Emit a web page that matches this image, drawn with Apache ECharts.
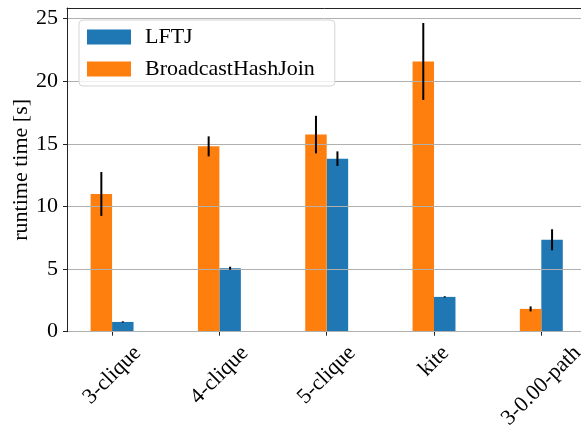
<!DOCTYPE html>
<html>
<head>
<meta charset="utf-8">
<script src="https://cdn.jsdelivr.net/npm/echarts@6/dist/echarts.min.js"></script>
<style>html,body{margin:0;padding:0;background:#fff}#c{width:581px;height:428px}</style>
</head>
<body>
<div id="c"></div>
<script>
const categories = ['3-clique', '4-clique', '5-clique', 'kite', '3-0.00-path'];
const lftj = [0.78, 5.07, 13.82, 2.78, 7.34];
const lftjErr = [0.05, 0.12, 0.58, 0.05, 0.84];
const bhj = [11.0, 14.8, 15.74, 21.58, 1.82];
const bhjErr = [1.75, 0.8, 1.5, 3.07, 0.2];
const yTicks = [0, 5, 10, 15, 20, 25];

const FONT = 'Liberation Serif';
const FS = 22;
const BLUE = '#1f77b4', ORANGE = '#ff7f0e';
const BW = 0.2;
const X_MIN = -0.42, X_MAX = 4.42;

// measure label widths so that rotated labels are centred under their ticks (matplotlib ha='center')
const mctx = document.createElement('canvas').getContext('2d');
mctx.font = FS + 'px "' + FONT + '"';
const rich = {};
categories.forEach((c, i) => {
  const w = mctx.measureText(c).width;
  rich['l' + i] = { fontFamily: FONT, fontSize: FS, color: '#000', padding: [w / 2, w / 2, 0, 0] };
});

function barSeries(name, vals, color, offset) {
  return {
    name, type: 'custom', z: 2,
    itemStyle: { color },
    data: vals.map((v, i) => [i, v]),
    encode: { x: 0, y: 1 },
    renderItem(params, api) {
      const i = api.value(0), v = api.value(1);
      const x0 = i + offset;
      const p1 = api.coord([x0, v]);
      const p2 = api.coord([x0 + BW, 0]);
      return { type: 'rect', shape: { x: p1[0], y: p1[1], width: p2[0] - p1[0], height: p2[1] - p1[1] },
               style: { fill: color } };
    }
  };
}
function errSeries(vals, errs, offset) {
  return {
    type: 'custom', z: 10, silent: true,
    data: vals.map((v, i) => [i, v - errs[i], v + errs[i]]),
    encode: { x: 0, y: [1, 2] },
    renderItem(params, api) {
      const i = api.value(0);
      const x = i + offset + BW / 2;
      const a = api.coord([x, api.value(1)]);
      const b = api.coord([x, api.value(2)]);
      return { type: 'line', shape: { x1: a[0], y1: a[1], x2: b[0], y2: b[1] },
               style: { stroke: '#000', lineWidth: 2 } };
    }
  };
}

const chart = echarts.init(document.getElementById('c'), null, { renderer: 'canvas' });
chart.setOption({
  animation: false,
  backgroundColor: '#fff',
  textStyle: { fontFamily: FONT },
  grid: { left: 67, top: 8, right: -5.4, bottom: 96.3, show: false, containLabel: false, outerBoundsMode: 'none' },
  legend: {
    left: 79, top: 20, orient: 'vertical',
    data: [{ name: 'LFTJ', itemStyle: { color: BLUE } }, { name: 'BroadcastHashJoin', itemStyle: { color: ORANGE } }],
    itemWidth: 44, itemHeight: 15, itemGap: 10,
    padding: [6, 20, 6, 8],
    borderColor: '#d5d5d5', borderWidth: 1, borderRadius: 4, backgroundColor: 'rgba(255,255,255,0.8)',
    textStyle: { fontFamily: FONT, fontSize: FS, color: '#000', padding: [0, 0, 0, 9] },
    icon: 'rect'
  },
  xAxis: [{
    type: 'value', min: X_MIN, max: X_MAX,
    axisLine: { show: true, onZero: false, lineStyle: { color: '#222', width: 1 } },
    axisTick: { show: true, customValues: categories.map((c, i) => i), length: 4, inside: false, lineStyle: { color: '#222' } },
    axisLabel: { customValues: categories.map((c, i) => i),
                 formatter: v => { const i = Math.round(v); return '{l' + i + '|' + categories[i] + '}'; },
                 rich, rotate: 45, margin: 18, align: 'center', verticalAlign: 'middle',
                 fontFamily: FONT, fontSize: FS, color: '#000' },
    splitLine: { show: false }
  }, {
    type: 'value', min: X_MIN, max: X_MAX, position: 'top',
    axisLine: { show: true, onZero: false, lineStyle: { color: '#222', width: 1 } },
    axisTick: { show: false }, axisLabel: { show: false }, splitLine: { show: false }
  }],
  yAxis: {
    type: 'value', min: 0, max: 25.85, z: 3,
    name: 'runtime time [s]', nameLocation: 'middle', nameGap: 35, nameMoveOverlap: false,
    nameTextStyle: { fontFamily: FONT, fontSize: FS, color: '#000' },
    axisLine: { show: true, onZero: false, lineStyle: { color: '#222', width: 1 } },
    axisTick: { show: true, customValues: yTicks, length: 4, lineStyle: { color: '#222' } },
    axisLabel: { customValues: yTicks, margin: 9, fontFamily: FONT, fontSize: FS, color: '#000' },
    splitLine: { show: true, lineStyle: { color: '#b0b0b0', width: 1 } }
  },
  series: [
    barSeries('LFTJ', lftj, BLUE, 0),
    barSeries('BroadcastHashJoin', bhj, ORANGE, -BW),
    errSeries(lftj, lftjErr, 0),
    errSeries(bhj, bhjErr, -BW)
  ]
});
</script>
</body>
</html>
